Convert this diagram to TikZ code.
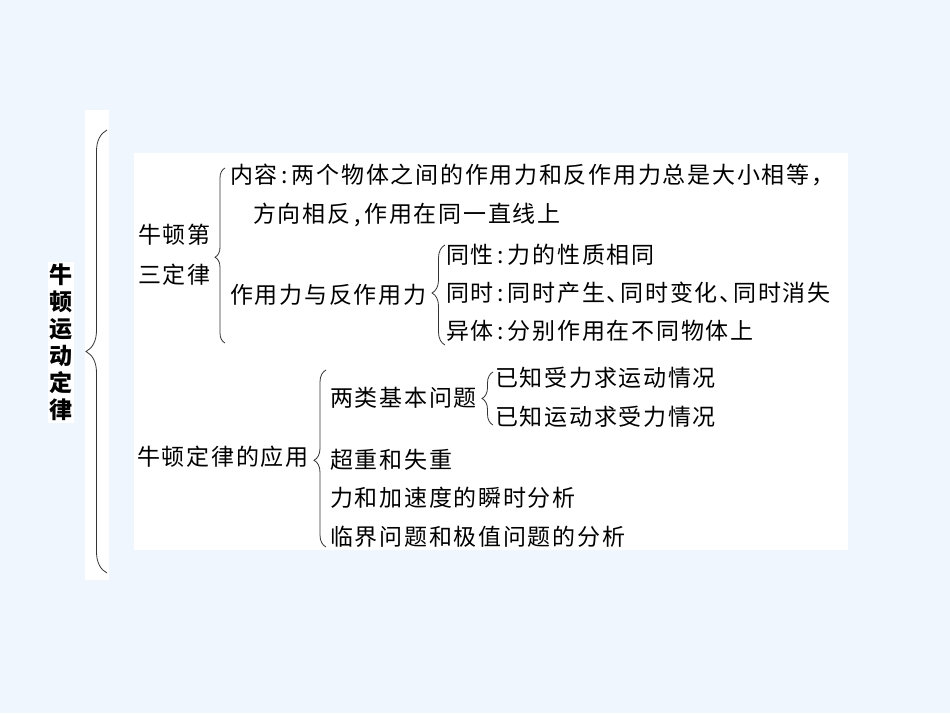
\documentclass[tikz,border=0pt]{standalone}
\usepackage{fontspec}
\newfontfamily\cjk{Noto Sans CJK SC}[LetterSpace=7.5]
\newfontfamily\cjktitle{Noto Sans CJK SC}
\usetikzlibrary{decorations.pathreplacing}
\definecolor{bgblue}{RGB}{239,246,253}
\newcommand\dun{、\kern-0.4em}

\tikzset{
  item/.style={anchor=west,inner sep=0pt,font=\cjk\fontsize{23}{23}\selectfont},
  bracket/.style 2 args={decorate,decoration={brace,amplitude=#1,aspect=#2},
    line width=0.8pt,draw=black!80},
  sheet/.style={fill=white,draw=none},
}

\begin{document}
\begin{tikzpicture}[x=1pt,y=-1pt]
\useasboundingbox (0,0) rectangle (950,713);
\fill[bgblue] (0,0) rectangle (950,713);

% White sheets
\fill[sheet] (85,110) rectangle (109,580);
\fill[sheet] (48,262) rectangle (74,423);
\fill[sheet] (134,153) rectangle (848,550);

% Title
\node[align=center,inner sep=0pt,font=\cjktitle\bfseries\fontsize{23}{27}\selectfont]
  (title) at (61,342) {牛\\顿\\运\\动\\定\\律};
\coordinate (t1) at (107,130);
\coordinate (t2) at (107,573);
\draw[bracket={21pt}{0.5}] (t2) -- (t1);

% Third law
\node[item] (law3a) at (138,235) {牛顿第};
\node[item] (law3b) at (138,275) {三定律};
\coordinate (b1) at (225,168);
\coordinate (b2) at (225,343);
\draw[bracket={10pt}{0.49}] (b2) -- (b1);
\node[item] (content) at (230,175) {内容\,:\,两个物体之间的作用力和反作用力总是大小相等，};
\node[item] (content2) at (253,215) {方向相反\,,\,作用在同一直线上};
\node[item] (pair) at (230,295) {作用力与反作用力};
\coordinate (c1) at (445,245);
\coordinate (c2) at (445,345);
\draw[bracket={13pt}{0.52}] (c2) -- (c1);
\foreach \i/\y/\t in {1/255/{同性\,:\,力的性质相同},
                      2/293/{同时\,:\,同时产生\dun 同时变化\dun 同时消失},
                      3/331/{异体\,:\,分别作用在不同物体上}} {
  \node[item] (prop\i) at (446,\y) {\t};
}

% Applications
\node[item] (apply) at (137,457) {牛顿定律的应用};
\coordinate (d1) at (326,370);
\coordinate (d2) at (326,547);
\draw[bracket={12pt}{0.49}] (d2) -- (d1);
\node[item] (twokinds) at (330,398) {两类基本问题};
\coordinate (e1) at (493,372);
\coordinate (e2) at (493,425);
\draw[bracket={11pt}{0.5}] (e2) -- (e1);
\node[item] (kind1) at (495,378) {已知受力求运动情况};
\node[item] (kind2) at (495,417) {已知运动求受力情况};
\foreach \i/\y/\t in {1/460/超重和失重,
                      2/498/力和加速度的瞬时分析,
                      3/537/临界问题和极值问题的分析} {
  \node[item] (topic\i) at (330,\y) {\t};
}
\end{tikzpicture}
\end{document}
